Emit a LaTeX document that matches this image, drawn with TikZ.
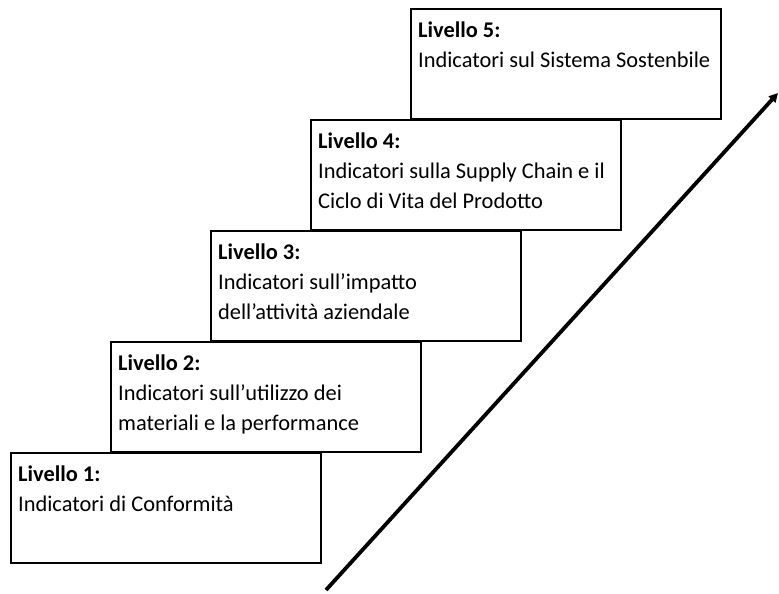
\documentclass[tikz,border=0pt]{standalone}
\usepackage{fontspec}
\setmainfont{Carlito}
\usetikzlibrary{arrows.meta}
\begin{document}
\begin{tikzpicture}[x=1pt,y=-1pt,
  levelbox/.style={draw=black, line width=1.8pt, minimum width=310pt,
    minimum height=110pt, inner sep=0pt, anchor=north west},
  leveltext/.style={anchor=north west, align=left, inner sep=0pt,
    font=\fontsize{22.4}{30}\selectfont},
  rise/.style={line width=3.8pt, -{Triangle[length=9pt,width=9pt]}}
]
\useasboundingbox (0,0) rectangle (779,594);

% Staircase of levels, each one step up and to the right
\node[levelbox] (box1) at (10,452) {};
\node[levelbox] (box2) at (110,341) {};
\node[levelbox] (box3) at (210,230) {};
\node[levelbox] (box4) at (310,119) {};
\node[levelbox] (box5) at (410,8) {};

\node[leveltext] (text1) at ([xshift=8pt,yshift=-14pt]box1.north west)
  {\textbf{Livello 1:}\\Indicatori di Conformità};
\node[leveltext] (text2) at ([xshift=8pt,yshift=-14pt]box2.north west)
  {\textbf{Livello 2:}\\Indicatori sull’utilizzo dei\\materiali e la performance};
\node[leveltext] (text3) at ([xshift=8pt,yshift=-14pt]box3.north west)
  {\textbf{Livello 3:}\\Indicatori sull’impatto\\dell’attività aziendale};
\node[leveltext] (text4) at ([xshift=8pt,yshift=-14pt]box4.north west)
  {\textbf{Livello 4:}\\Indicatori sulla Supply Chain e il\\Ciclo di Vita del Prodotto};
\node[leveltext] (text5) at ([xshift=8pt,yshift=-14pt]box5.north west)
  {\textbf{Livello 5:}\\Indicatori sul Sistema Sostenbile};

% Rising arrow beside the staircase
\coordinate (risestart) at (326,590);
\coordinate (riseend) at (778,93);
\draw[rise] (risestart) -- (riseend);
\end{tikzpicture}
\end{document}
